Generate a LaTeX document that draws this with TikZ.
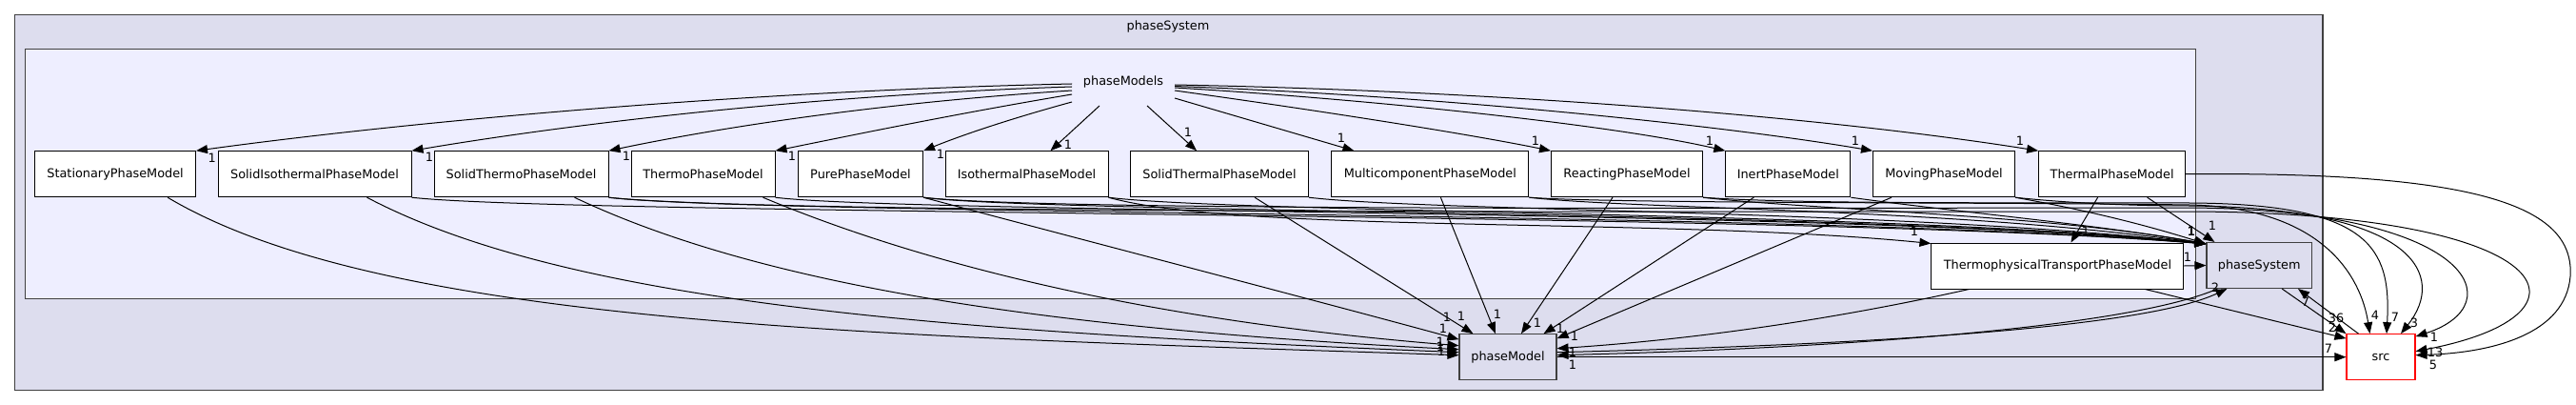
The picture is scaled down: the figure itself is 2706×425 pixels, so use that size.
\documentclass[tikz,border=0pt]{standalone}
\usepackage{fontspec}
\newfontfamily\djvfont{DejaVu Sans}
\usetikzlibrary{arrows.meta,calc}
\definecolor{clout}{HTML}{DDDDEE}
\definecolor{clin}{HTML}{EEEEFF}
\definecolor{clbd}{HTML}{404040}
\newcommand\dfont{\djvfont\fontsize{12.85pt}{15pt}\selectfont}
\begin{document}
\begin{tikzpicture}[x=1pt,y=-1pt,
 box/.style={draw=black,fill=white,line width=1pt,minimum width=#1pt,minimum height=48pt,inner sep=0pt,font=\dfont},
 dirnode/.style={draw=clbd,fill=clout,line width=1.1pt,minimum width=#1pt,minimum height=48pt,inner sep=0pt,font=\dfont},
 srcnode/.style={draw=red,fill=white,line width=1.1pt,minimum width=72pt,minimum height=48pt,inner sep=0pt,font=\dfont},
 e/.style={draw=black,line width=1pt,-{Triangle[length=12pt,width=9pt]}},
 lbl/.style={font=\dfont,inner sep=0pt},
 cluster/.style={draw=clbd,line width=1.3pt}]

\fill[white] (0,0) rectangle (2706,425);
\useasboundingbox (0,0) rectangle (2706,425);

% clusters
\draw[cluster,fill=clout] (15.5,15.7) rectangle (2440,409.3);
\node[lbl] (lsys) at (1227,28) {phaseSystem};
\draw[cluster,fill=clin] (26.4,51.7) rectangle (2306.7,313.3);
\node[lbl] (pms) at (1180,86) {phaseModels};

% nodes
\node[box=168.8] (stat) at (121.1,182.7) {StationaryPhaseModel};
\node[box=203] (siso) at (330.5,182.7) {SolidIsothermalPhaseModel};
\node[box=183] (sthermo) at (547.5,182.7) {SolidThermoPhaseModel};
\node[box=151] (thermo) at (738.5,182.7) {ThermoPhaseModel};
\node[box=131] (pure) at (904,182.7) {PurePhaseModel};
\node[box=171] (iso) at (1078.5,182.7) {IsothermalPhaseModel};
\node[box=187] (sthermal) at (1281,182.7) {SolidThermalPhaseModel};
\node[box=207] (multi) at (1502.4,182.7) {MulticomponentPhaseModel};
\node[box=159] (react) at (1709,182.7) {ReactingPhaseModel};
\node[box=131] (inert) at (1878.3,182.7) {InertPhaseModel};
\node[box=149] (moving) at (2042,182.7) {MovingPhaseModel};
\node[box=154] (thermal) at (2218.6,182.7) {ThermalPhaseModel};
\node[box=265] (ttpm) at (2161.4,279) {ThermophysicalTransportPhaseModel};
\node[dirnode=110.5] (psys) at (2373.2,278.5) {phaseSystem};
\node[dirnode=102] (pmod) at (1584,374.7) {phaseModel};
\node[srcnode] (src) at (2501,374.7) {src};

% phaseModels -> subdirectories
\draw[e] ($(pms.center)+(-54,2)$) .. controls (800,95) and (450,125) .. (stat.north east) node[lbl] at (222.7,165.5) {1};
\draw[e] ($(pms.center)+(-54,5)$) .. controls (850,100) and (600,130) .. (siso.north east) node[lbl] at (451,165) {1};
\draw[e] ($(pms.center)+(-54,9)$) .. controls (920,108) and (750,135) .. (sthermo.north east) node[lbl] at (658,164) {1};
\draw[e] ($(pms.center)+(-54,13)$) .. controls (1000,120) and (880,145) .. (thermo.north east) node[lbl] at (832,164) {1};
\draw[e] ($(pms.center)+(-54,21)$) .. controls (1060,125) and (1010,142) .. (pure.north east) node[lbl] at (988,162) {1};
\draw[e] ($(pms.center)+(-25,25)$) -- ($(iso.north)+(25,0)$) node[lbl] at (1122,152) {1};
\draw[e] ($(pms.center)+(25,25)$) -- ($(sthermal.north)+(-24,0)$) node[lbl] at (1248,139) {1};
\draw[e] ($(pms.center)+(54,17)$) -- ($(multi.north west)+(24,0)$) node[lbl] at (1409,145) {1};
\draw[e] ($(pms.center)+(54,9)$) .. controls (1400,118) and (1550,142) .. (react.north west) node[lbl] at (1613,148) {1};
\draw[e] ($(pms.center)+(54,6)$) .. controls (1450,105) and (1700,132) .. (inert.north west) node[lbl] at (1796,148) {1};
\draw[e] ($(pms.center)+(54,4.5)$) .. controls (1500,100) and (1800,130) .. (moving.north west) node[lbl] at (1949,148) {1};
\draw[e] ($(pms.center)+(54,3)$) .. controls (1550,95) and (1900,120) .. (thermal.north west) node[lbl] at (2122,148) {1};

% subdirectories -> phaseModel
\draw[e] ($(stat.south)+(55,0)$) .. controls (400,340) and (900,352) .. ($(pmod.west)+(0,-2)$) node[lbl] at (1514,369) {1};
\draw[e] ($(siso.south)+(55,0)$) .. controls (600,320) and (1000,348) .. ($(pmod.west)+(0,-5)$) node[lbl] at (1513,364) {1};
\draw[e] ($(sthermo.south)+(56,0)$) .. controls (800,300) and (1100,345) .. ($(pmod.west)+(0,-8)$) node[lbl] at (1513,359) {1};
\draw[e] ($(thermo.south)+(63,0)$) .. controls (1000,290) and (1250,340) .. ($(pmod.west)+(0,-12)$) node[lbl] at (1516,345) {1};
\draw[e] (pure.south east) .. controls (1150,255) and (1400,320) .. ($(pmod.north west)+(0,6)$) node[lbl] at (1520,333) {1};
\draw[e] ($(sthermal.south)+(37,0)$) -- ($(pmod.north west)+(15,0)$) node[lbl] at (1535,332) {1};
\draw[e] ($(multi.south)+(11,0)$) -- ($(pmod.north)+(-13,0)$) node[lbl] at (1573,330) {1};
\draw[e] ($(react.south)+(-15,0)$) -- ($(pmod.north)+(14,0)$) node[lbl] at (1615,339) {1};
\draw[e] ($(inert.south)+(-36,0)$) -- ($(pmod.north east)+(-14,0)$) node[lbl] at (1639,345) {1};
\draw[e] ($(moving.south)+(-55,0)$) -- ($(pmod.north east)+(0,5)$) node[lbl] at (1654,353) {1};
\draw[e] ($(ttpm.south west)+(40,0)$) .. controls (1950,330) and (1800,355) .. ($(pmod.east)+(0,-9)$) node[lbl] at (1652,370) {1};
\draw[e] ($(psys.south west)+(12,0)$) .. controls (2240,342) and (1950,365) .. ($(pmod.east)+(0,-2)$) node[lbl] at (1652,383) {1};

% phaseModel -> others
\draw[e] ($(pmod.east)+(0,-5)$) .. controls (1950,362) and (2250,345) .. ($(psys.south west)+(22,0)$) node[lbl] at (2327,302) {2};
\draw[e] (pmod.east) -- (src.west) node[lbl] at (2446,366) {7};

% subdirectories -> phaseSystem
\draw[e] (siso.south east) .. controls (600,226) and (1900,222) .. ($(psys.north west)+(0,2)$) node[lbl] at (2302,243) {1};
\draw[e] (sthermo.south east) .. controls (800,226) and (1900,221) .. ($(psys.north west)+(0,2)$) node[lbl] at (2302,243) {1};
\draw[e] (thermo.south east) .. controls (950,224) and (1950,220) .. ($(psys.north west)+(0,2)$) node[lbl] at (2302,243) {1};
\draw[e] (pure.south east) .. controls (1100,224) and (1950,220) .. ($(psys.north west)+(0,2)$) node[lbl] at (2302,243) {1};
\draw[e] (iso.south east) .. controls (1300,224) and (2000,222) .. ($(psys.north west)+(0,2)$) node[lbl] at (2302,243) {1};
\draw[e] (sthermal.south east) .. controls (1500,222) and (2000,220) .. ($(psys.north west)+(0,2)$) node[lbl] at (2302,243) {1};
\draw[e] (multi.south east) .. controls (1720,220) and (2050,218) .. ($(psys.north west)+(0,2)$) node[lbl] at (2302,243) {1};
\draw[e] (react.south east) .. controls (1900,220) and (2150,225) .. ($(psys.north west)+(0,2)$) node[lbl] at (2302,243) {1};
\draw[e] (inert.south east) .. controls (2050,222) and (2200,235) .. ($(psys.north west)+(0,2)$) node[lbl] at (2302,243) {1};
\draw[e] (moving.south east) .. controls (2200,222) and (2260,238) .. ($(psys.north west)+(0,2)$) node[lbl] at (2302,243) {1};
\draw[e] (ttpm.east) -- (psys.west) node[lbl] at (2298,270) {1};
\draw[e] ($(thermal.south)+(37,0)$) -- ($(psys.north west)+(9,0)$) node[lbl] at (2324,237) {1};

% other edges
\draw[e] (iso.south east) .. controls (1300,245) and (1750,228) .. ($(ttpm.north west)+(0,1)$) node[lbl] at (2011,243) {1};
\draw[e] ($(thermal.south)+(-15,0)$) -- ($(ttpm.north)+(14,0)$) node[lbl] at (2191,243) {1};
\draw[e] ($(ttpm.south east)+(-41,0)$) -- ($(src.north west)+(0,5)$) node[lbl] at (2450,344) {2};
\draw[e] ($(psys.south)+(24,0)$) -- (src.north west) node[lbl] at (2454,334) {36};
\draw[e] ($(src.north west)+(13,0)$) -- ($(psys.south east)+(-15,0)$) node[lbl] at (2422,317) {7};

% subdirectories -> src
\draw[e] (multi.south east) .. controls (1700,214) and (2100,212) .. (2300,215) .. controls (2440,218) and (2480,290) .. ($(src.north west)+(25,0)$) node[lbl] at (2495,331) {4};
\draw[e] (react.south east) .. controls (1900,215) and (2150,212) .. (2300,213) .. controls (2490,214) and (2512,260) .. ($(src.north)+(6,0)$) node[lbl] at (2516,333) {7};
\draw[e] (moving.south east) .. controls (2180,214) and (2250,216) .. (2300,216) .. controls (2540,218) and (2570,290) .. ($(src.north)+(21,0)$) node[lbl] at (2536,339) {3};
\draw[e] (pure.south east) .. controls (1100,222) and (1900,218) .. (2300,218) .. controls (2600,220) and (2640,320) .. ($(src.north east)+(0,3)$) node[lbl] at (2557,354) {1};
\draw[e] (sthermo.south east) .. controls (800,225) and (1800,222) .. (2300,222) .. controls (2690,223) and (2740,330) .. ($(src.east)+(0,-6)$) node[lbl] at (2558,370) {13};
\draw[e] (thermal.east) .. controls (2600,180) and (2705,215) .. (2700,290) .. controls (2695,350) and (2620,370) .. ($(src.east)+(0,-2)$) node[lbl] at (2556,383) {5};
\end{tikzpicture}
\end{document}
